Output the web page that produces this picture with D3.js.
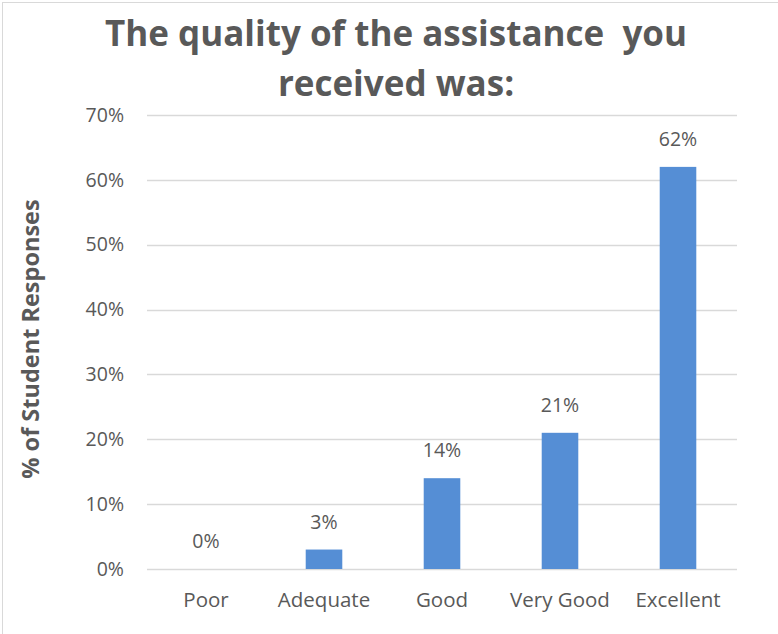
<!DOCTYPE html>
<html>
<head>
<meta charset="utf-8">
<script src="https://cdn.jsdelivr.net/npm/d3@7"></script>
<style>
  html, body { margin: 0; padding: 0; background: #fff; }
  svg { display: block; }
</style>
</head>
<body>
<svg id="chart" width="778" height="634"></svg>
<script>
// Survey result: rating of the assistance received
const categories = ["Poor", "Adequate", "Good", "Very Good", "Excellent"];
const values = [0, 3, 14, 21, 62];            // percent of responses
const tickValues = [0, 10, 20, 30, 40, 50, 60, 70];
const titleLines = ["The quality of the assistance  you", "received was:"];
const yAxisTitle = "% of Student Responses";

const svg = d3.select("#chart");
const W = 778, H = 634;
const font = "'Open Sans', Lato, sans-serif";
const textColor = "#595959";

// chart frame
svg.append("rect")
  .attr("x", 2.5).attr("y", 2.5)
  .attr("width", W + 10).attr("height", H + 10)
  .attr("fill", "#fff")
  .attr("stroke", "#d9d9d9").attr("stroke-width", 1);

const plot = { left: 147, right: 737, top: 115, bottom: 569 };

const x = d3.scaleBand()
  .domain(categories)
  .range([plot.left, plot.right])
  .paddingInner(0.69)
  .paddingOuter(0.345);

const y = d3.scaleLinear()
  .domain([0, 70])
  .range([plot.bottom, plot.top]);

// horizontal gridlines
svg.append("g")
  .selectAll("line")
  .data(tickValues)
  .join("line")
  .attr("x1", plot.left).attr("x2", plot.right)
  .attr("y1", d => Math.round(y(d)) + 0.5)
  .attr("y2", d => Math.round(y(d)) + 0.5)
  .attr("stroke", "#d9d9d9").attr("stroke-width", 1.3);

// y axis tick labels
const yAxis = d3.axisLeft(y)
  .tickValues(tickValues)
  .tickFormat(d => d + "%")
  .tickSize(0)
  .tickPadding(23);
const gy = svg.append("g")
  .attr("transform", `translate(${plot.left},0)`)
  .call(yAxis);
gy.select(".domain").remove();
gy.selectAll("text")
  .attr("font-family", font)
  .attr("font-size", 19.5)
  .attr("fill", textColor);

// x axis category labels
const xAxis = d3.axisBottom(x).tickSize(0).tickPadding(0);
const gx = svg.append("g")
  .attr("transform", `translate(0,${plot.bottom})`)
  .call(xAxis);
gx.select(".domain").remove();
gx.selectAll("text")
  .attr("dy", null)
  .attr("y", 38)
  .attr("font-family", font)
  .attr("font-size", 20.5)
  .attr("fill", textColor);

// bars
svg.append("g")
  .selectAll("rect")
  .data(values)
  .join("rect")
  .attr("x", (d, i) => x(categories[i]))
  .attr("width", x.bandwidth())
  .attr("y", d => y(d))
  .attr("height", d => y(0) - y(d))
  .attr("fill", "#558ed5");

// value labels
svg.append("g")
  .selectAll("text")
  .data(values)
  .join("text")
  .attr("x", (d, i) => x(categories[i]) + x.bandwidth() / 2)
  .attr("y", d => y(d) - 21)
  .attr("text-anchor", "middle")
  .attr("font-family", font)
  .attr("font-size", 19.5)
  .attr("fill", textColor)
  .text(d => d + "%");

// title
svg.append("g")
  .selectAll("text")
  .data(titleLines)
  .join("text")
  .attr("x", 396)
  .attr("y", (d, i) => 46 + i * 50)
  .attr("text-anchor", "middle")
  .attr("font-family", font)
  .attr("font-weight", "bold")
  .attr("font-size", 35)
  .attr("fill", textColor)
  .style("white-space", "pre")
  .text(d => d);

// y axis title
svg.append("text")
  .attr("transform", `translate(39,339) rotate(-90)`)
  .attr("text-anchor", "middle")
  .attr("font-family", font)
  .attr("font-weight", "bold")
  .attr("font-size", 23.5)
  .attr("fill", textColor)
  .text(yAxisTitle);
</script>
</body>
</html>
